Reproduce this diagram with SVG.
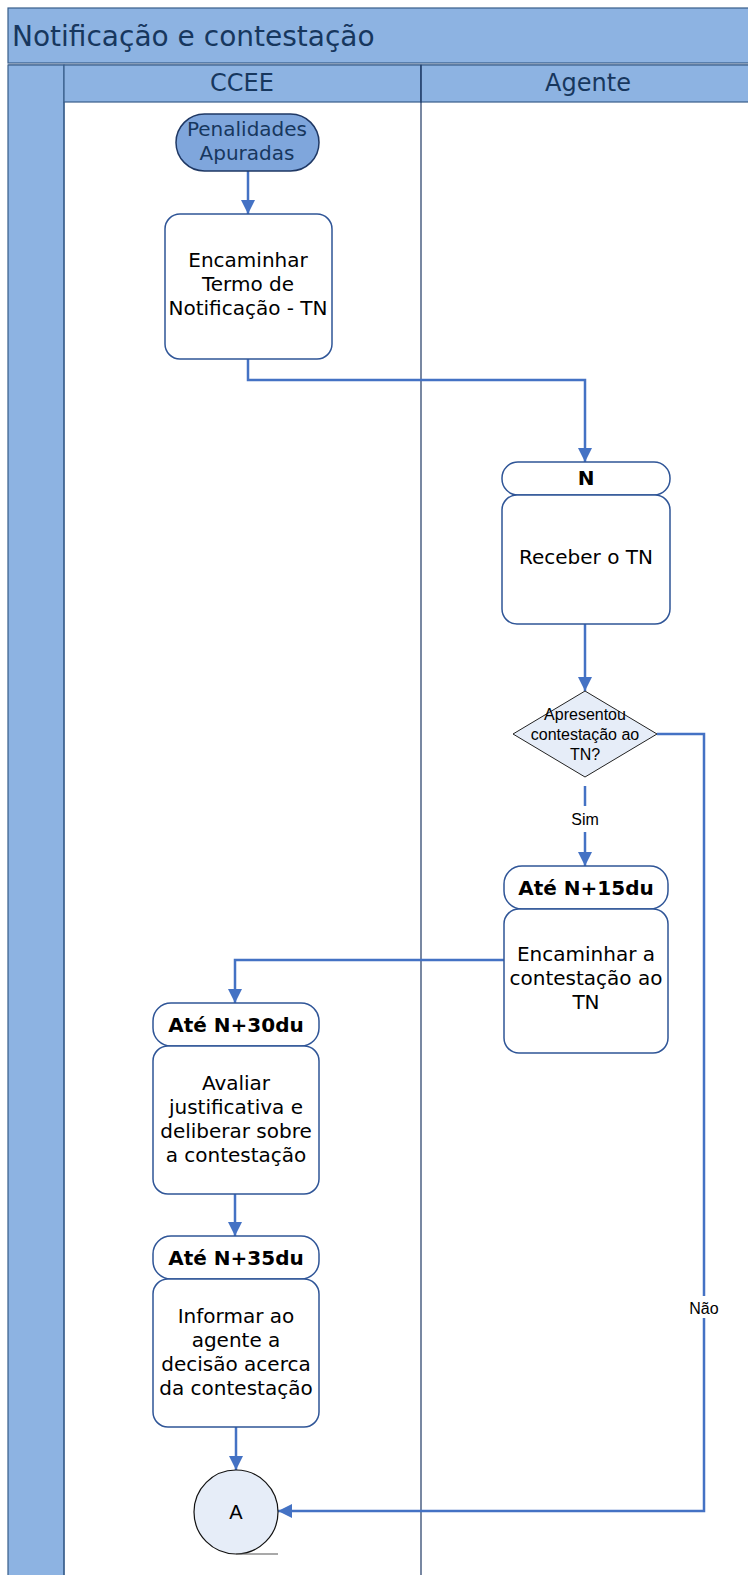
<svg xmlns="http://www.w3.org/2000/svg" width="748" height="1575" viewBox="0 0 748 1575">
<style>
.hdr{fill:#8DB3E2;stroke:#385D8A;stroke-width:1.2}
.box{fill:#FFFFFF;stroke:#2F5597;stroke-width:1.5}
.t{font-family:"DejaVu Sans",Verdana,sans-serif;font-size:20px;fill:#000;text-anchor:middle}
.b{font-weight:bold}
.a{font-family:"Liberation Sans",Arial,sans-serif;font-size:16px;fill:#000;text-anchor:middle}
.con{fill:none;stroke:#4472C4;stroke-width:2.5}
.lane{font-family:"DejaVu Sans",Tahoma,sans-serif;font-size:24px;fill:#17375E;text-anchor:middle}
</style>
<defs>
<marker id="arr" markerUnits="userSpaceOnUse" markerWidth="15" markerHeight="14" refX="14" refY="7" orient="auto">
<path d="M0,0 L14,7 L0,14 z" fill="#4472C4"/>
</marker>
</defs>
<rect width="748" height="1575" fill="#FFFFFF"/>
<g id="pool">
<rect class="hdr" x="8" y="8" width="745" height="55"/>
<text x="12" y="46" font-family="DejaVu Sans,Tahoma,sans-serif" font-size="28" fill="#17375E">Notificação e contestação</text>
<line x1="8" y1="65" x2="748" y2="65" stroke="#385D8A" stroke-width="1.2"/>
<rect class="hdr" x="8" y="65" width="56" height="1515"/>
<rect class="hdr" x="64" y="65" width="357" height="37"/>
<rect class="hdr" x="421" y="65" width="332" height="37"/>
<line x1="64" y1="102" x2="64" y2="1575" stroke="#385D8A" stroke-width="1.2"/>
<line x1="421" y1="65" x2="421" y2="1575" stroke="#1F3864" stroke-width="1.2"/>
<text class="lane" x="242" y="91">CCEE</text>
<text class="lane" x="588" y="91">Agente</text>
</g>
<g id="connectors">
<path class="con" d="M248,171 V214" marker-end="url(#arr)"/>
<path class="con" d="M248,359 V380 H585 V462" marker-end="url(#arr)"/>
<path class="con" d="M585,624 V691" marker-end="url(#arr)"/>
<path class="con" d="M585,786 V806"/>
<path class="con" d="M585,832 V866" marker-end="url(#arr)"/>
<text class="a" x="585" y="825">Sim</text>
<path class="con" d="M504,960 H235 V1003" marker-end="url(#arr)"/>
<path class="con" d="M235,1194 V1236" marker-end="url(#arr)"/>
<path class="con" d="M236,1427 V1470" marker-end="url(#arr)"/>
<path class="con" d="M657,734 H704 V1296"/>
<path class="con" d="M704,1318 V1511 H278" marker-end="url(#arr)"/>
<text class="a" x="704" y="1314">Não</text>
</g>
<g id="start">
<rect x="176" y="114" width="143" height="57" rx="28.5" fill="#7FA6DC" stroke="#1F3864" stroke-width="1.5"/>
<text class="t" x="247" y="136" fill="#17375E" style="fill:#17375E">Penalidades</text>
<text class="t" x="247" y="160" style="fill:#17375E">Apuradas</text>
</g>
<g id="encaminhar-tn">
<rect class="box" x="165" y="214" width="167" height="145" rx="15"/>
<text class="t" x="248" y="267">Encaminhar</text>
<text class="t" x="248" y="291">Termo de</text>
<text class="t" x="248" y="315">Notificação - TN</text>
</g>
<g id="receber-tn">
<rect class="box" x="502" y="462" width="168" height="33" rx="16"/>
<text class="t b" x="586" y="485">N</text>
<rect class="box" x="502" y="495" width="168" height="129" rx="15"/>
<text class="t" x="586" y="564">Receber o TN</text>
</g>
<g id="decisao">
<polygon points="585,691 657,734 585,777 513,734" fill="#E6EDF8" stroke="#222" stroke-width="1"/>
<text class="a" x="585" y="720">Apresentou</text>
<text class="a" x="585" y="740">contestação ao</text>
<text class="a" x="585" y="760">TN?</text>
</g>
<g id="encaminhar-contestacao">
<rect class="box" x="504" y="866" width="164" height="43" rx="18"/>
<text class="t b" x="586" y="895">Até N+15du</text>
<rect class="box" x="504" y="909" width="164" height="144" rx="15"/>
<text class="t" x="586" y="961">Encaminhar a</text>
<text class="t" x="586" y="985">contestação ao</text>
<text class="t" x="586" y="1009">TN</text>
</g>
<g id="avaliar">
<rect class="box" x="153" y="1003" width="166" height="43" rx="18"/>
<text class="t b" x="236" y="1032">Até N+30du</text>
<rect class="box" x="153" y="1046" width="166" height="148" rx="15"/>
<text class="t" x="236" y="1090">Avaliar</text>
<text class="t" x="236" y="1114">justificativa e</text>
<text class="t" x="236" y="1138">deliberar sobre</text>
<text class="t" x="236" y="1162">a contestação</text>
</g>
<g id="informar">
<rect class="box" x="153" y="1236" width="166" height="43" rx="18"/>
<text class="t b" x="236" y="1265">Até N+35du</text>
<rect class="box" x="153" y="1279" width="166" height="148" rx="15"/>
<text class="t" x="236" y="1323">Informar ao</text>
<text class="t" x="236" y="1347">agente a</text>
<text class="t" x="236" y="1371">decisão acerca</text>
<text class="t" x="236" y="1395">da contestação</text>
</g>
<g id="conector-a">
<circle cx="236" cy="1512" r="42" fill="#E6EDF8" stroke="#111" stroke-width="1.2"/>
<line x1="236" y1="1554" x2="278" y2="1554" stroke="#555" stroke-width="1.2"/>
<text x="236" y="1519" font-family="Liberation Sans,Arial,sans-serif" font-size="20" text-anchor="middle" fill="#000">A</text>
</g>
</svg>
